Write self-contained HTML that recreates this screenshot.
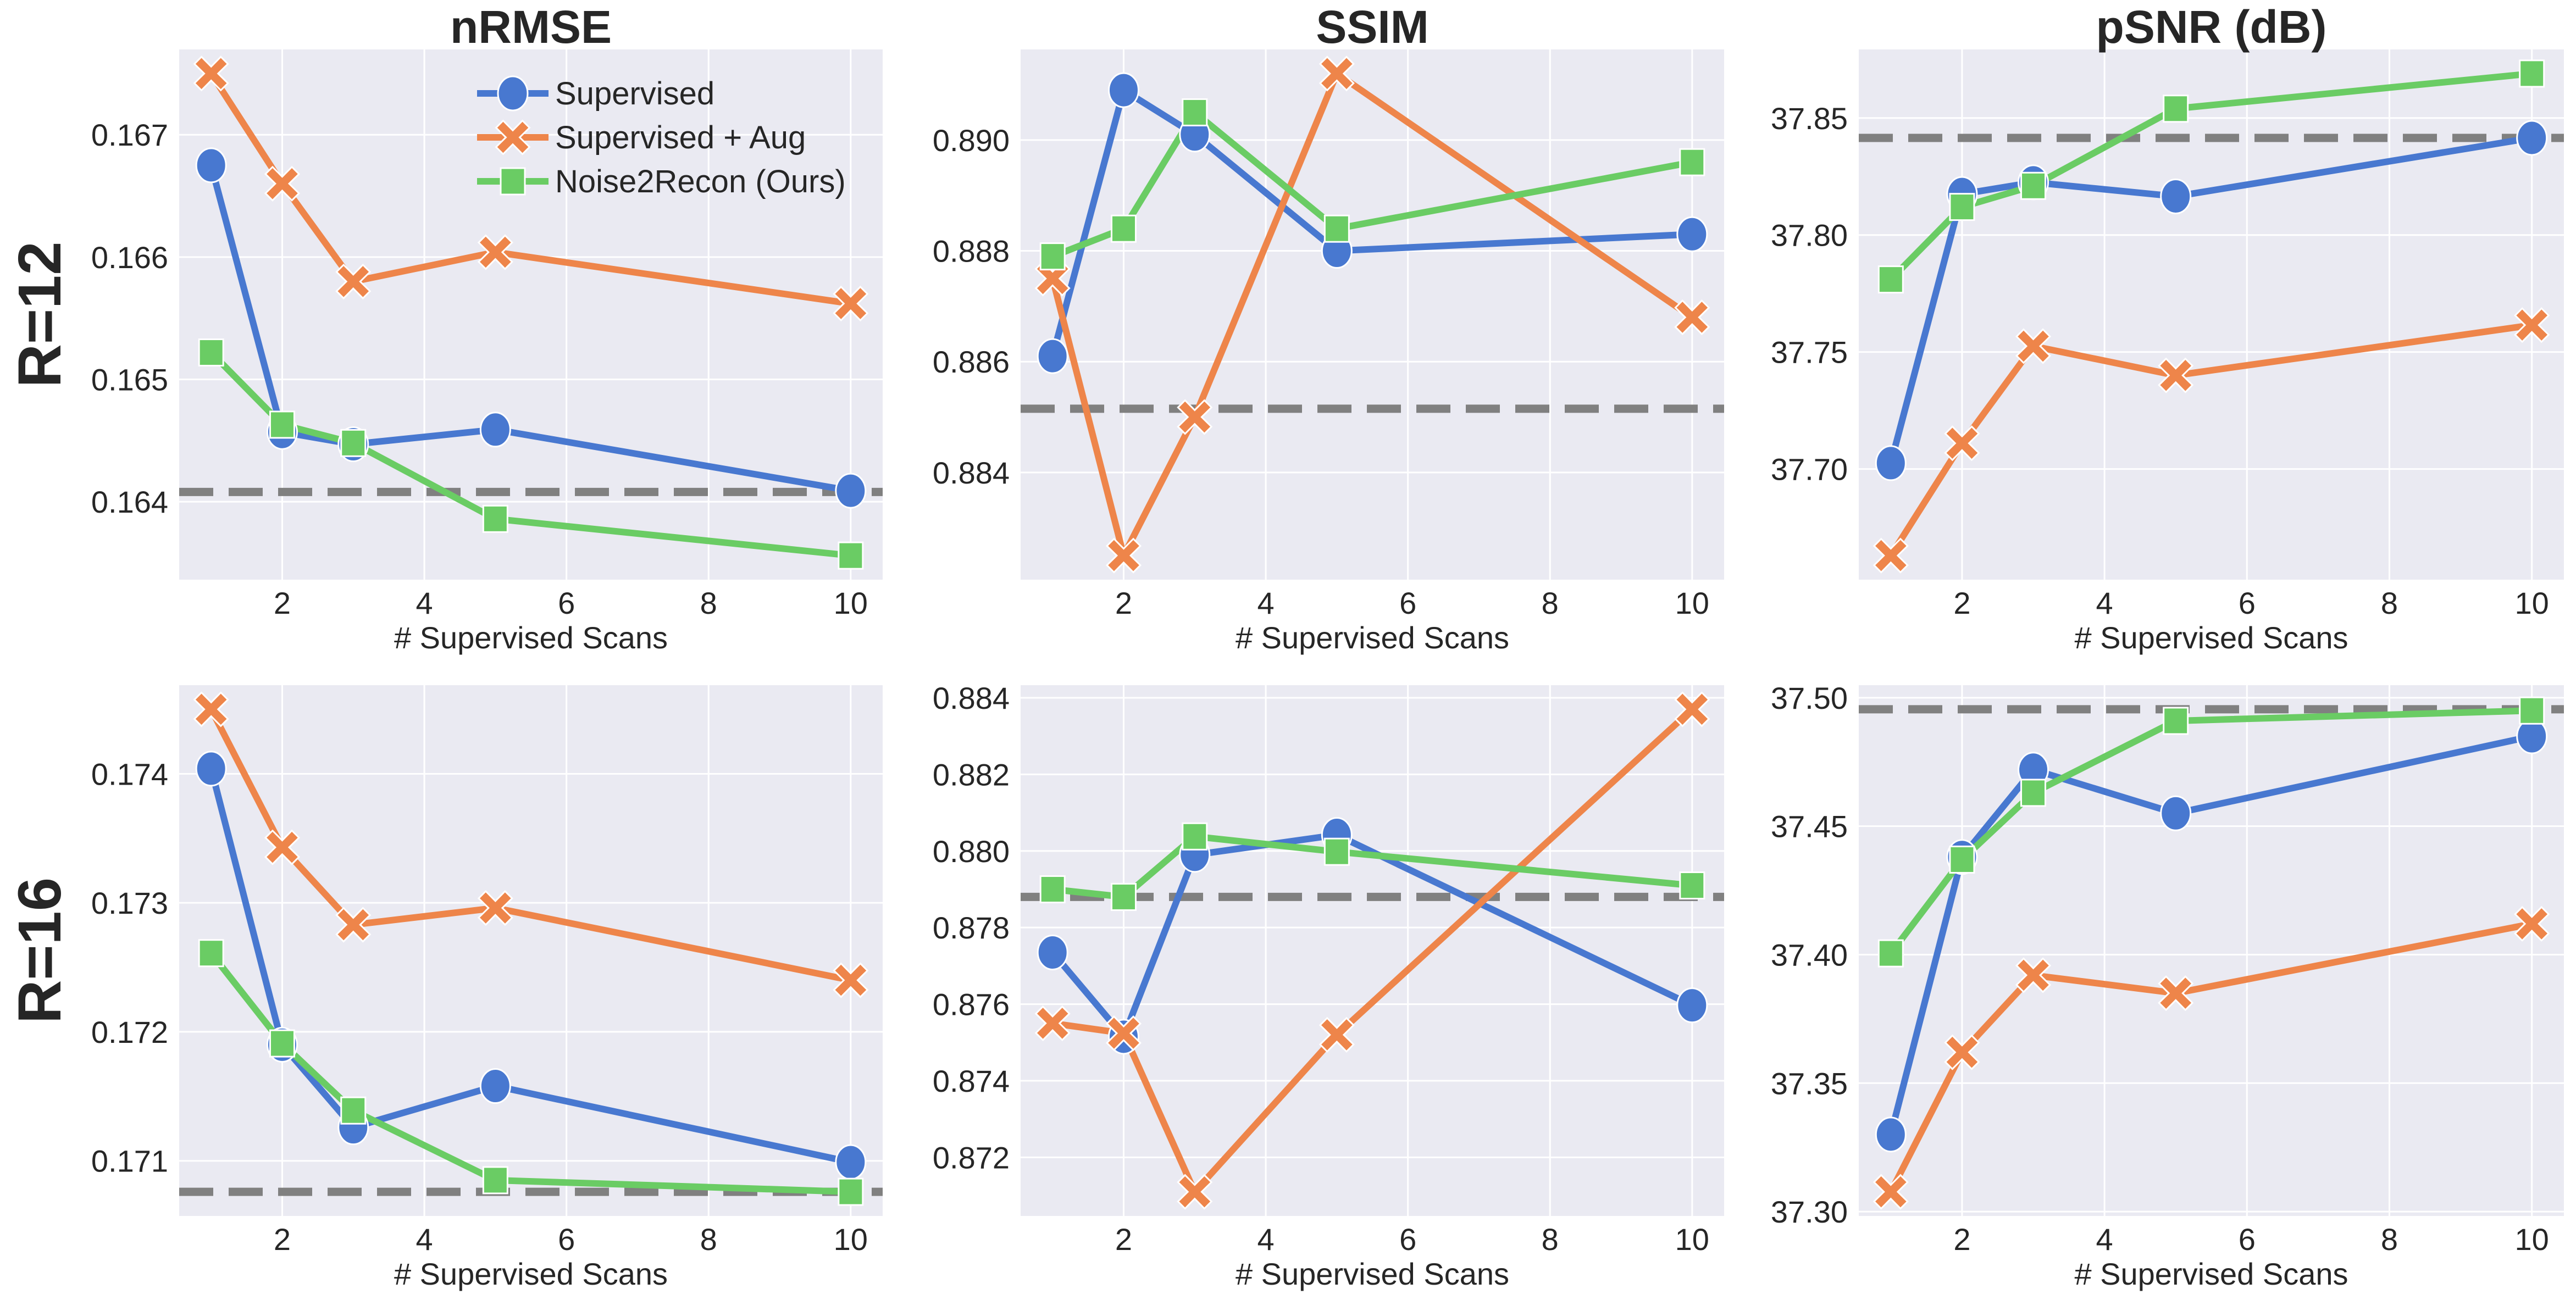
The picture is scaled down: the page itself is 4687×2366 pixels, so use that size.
<!DOCTYPE html>
<html><head><meta charset="utf-8"><style>
html,body{margin:0;padding:0;background:#fff;}
svg{display:block;font-family:"Liberation Sans",sans-serif;}
</style></head><body>
<svg id="fig" width="4687" height="2366" viewBox="0 0 4687 2366" xmlns="http://www.w3.org/2000/svg"></svg>
<script>
const xCats = [1,2,3,5,10];
const xTicks = [2,4,6,8,10];
const seriesNames = ["Supervised","Supervised + Aug","Noise2Recon (Ours)"];
// R=12
const nrmse12Sup = [0.16675,0.16457,0.16447,0.16459,0.16409];
const nrmse12Aug = [0.16750,0.16660,0.16580,0.16604,0.16562];
const nrmse12N2R = [0.16522,0.16463,0.16448,0.16386,0.16356];
const nrmse12Base = 0.16408;
const nrmse12Ticks = [0.164,0.165,0.166,0.167];
const ssim12Sup = [0.8861,0.8909,0.8901,0.8880,0.8883];
const ssim12Aug = [0.8875,0.8825,0.8850,0.8912,0.8868];
const ssim12N2R = [0.8879,0.8884,0.8905,0.8884,0.8896];
const ssim12Base = 0.88515;
const ssim12Ticks = [0.884,0.886,0.888,0.890];
const psnr12Sup = [37.7025,37.8175,37.8225,37.8165,37.8415];
const psnr12Aug = [37.663,37.711,37.7525,37.740,37.7615];
const psnr12N2R = [37.781,37.812,37.821,37.854,37.869];
const psnr12Base = 37.8415;
const psnr12Ticks = [37.70,37.75,37.80,37.85];
// R=16
const nrmse16Sup = [0.17404,0.17190,0.17126,0.17158,0.17099];
const nrmse16Aug = [0.17450,0.17343,0.17283,0.17296,0.17240];
const nrmse16N2R = [0.17261,0.17191,0.17139,0.17085,0.17076];
const nrmse16Base = 0.17076;
const nrmse16Ticks = [0.171,0.172,0.173,0.174];
const ssim16Sup = [0.87735,0.87515,0.8799,0.88042,0.87597];
const ssim16Aug = [0.8755,0.87524,0.8711,0.8752,0.8837];
const ssim16N2R = [0.8790,0.87880,0.88038,0.87998,0.8791];
const ssim16Base = 0.87880;
const ssim16Ticks = [0.872,0.874,0.876,0.878,0.880,0.882,0.884];
const psnr16Sup = [37.330,37.438,37.472,37.455,37.485];
const psnr16Aug = [37.3077,37.362,37.392,37.385,37.412];
const psnr16N2R = [37.4005,37.437,37.463,37.491,37.495];
const psnr16Base = 37.4955;
const psnr16Ticks = [37.30,37.35,37.40,37.45,37.50];

const NS="http://www.w3.org/2000/svg";
const svg=document.getElementById('fig');
const colors=["#4878D0","#EE854A","#6ACC64"];
function mk(tag,attrs,parent){const e=document.createElementNS(NS,tag);for(const k in attrs)e.setAttribute(k,attrs[k]);(parent||svg).appendChild(e);return e;}

const colX=[[326,1606],[1857,3137],[3382,4665]];
const rowY=[[90,1055],[1247,2213]];
const panels=[
 {r:0,c:0,s:[nrmse12Sup,nrmse12Aug,nrmse12N2R],b:nrmse12Base,t:nrmse12Ticks,d:3,name:"nrmse-r12"},
 {r:0,c:1,s:[ssim12Sup,ssim12Aug,ssim12N2R],b:ssim12Base,t:ssim12Ticks,d:3,name:"ssim-r12"},
 {r:0,c:2,s:[psnr12Sup,psnr12Aug,psnr12N2R],b:psnr12Base,t:psnr12Ticks,d:2,name:"psnr-r12"},
 {r:1,c:0,s:[nrmse16Sup,nrmse16Aug,nrmse16N2R],b:nrmse16Base,t:nrmse16Ticks,d:3,name:"nrmse-r16"},
 {r:1,c:1,s:[ssim16Sup,ssim16Aug,ssim16N2R],b:ssim16Base,t:ssim16Ticks,d:3,name:"ssim-r16"},
 {r:1,c:2,s:[psnr16Sup,psnr16Aug,psnr16N2R],b:psnr16Base,t:psnr16Ticks,d:2,name:"psnr-r16"}
];

function marker(g,k,x,y){
  if(k===0){const m=mk('ellipse',{cx:x,cy:y,rx:27,ry:31,fill:colors[0],stroke:'#fff','stroke-width':3},g);
    }
  else if(k===1){const a=24,w=9;
    const p=`M${-a-w/1.4},${-a+w/1.4} L${-a+w/1.4},${-a-w/1.4} L0,${-w*1.4} L${a-w/1.4},${-a-w/1.4} L${a+w/1.4},${-a+w/1.4} L${w*1.4},0 L${a+w/1.4},${a-w/1.4} L${a-w/1.4},${a+w/1.4} L0,${w*1.4} L${-a+w/1.4},${a+w/1.4} L${-a-w/1.4},${a-w/1.4} L${-w*1.4},0 Z`;
    const m=mk('path',{d:p,transform:`translate(${x},${y})`,fill:colors[1],stroke:'#fff','stroke-width':3,'stroke-linejoin':'miter'},g);
    }
  else {const m=mk('rect',{x:x-22,y:y-24,width:44,height:48,fill:colors[2],stroke:'#fff','stroke-width':3},g);
    }
}

panels.forEach(p=>{
  const [x0,x1]=colX[p.c],[y0,y1]=rowY[p.r];
  const xmin=Math.min(...xCats),xmax=Math.max(...xCats),xp=(xmax-xmin)*0.05;
  const sx=v=>x0+(v-(xmin-xp))/((xmax+xp)-(xmin-xp))*(x1-x0);
  const all=[].concat(...p.s,[p.b]);
  const lo=Math.min(...all),hi=Math.max(...all),yp=(hi-lo)*0.05;
  const sy=v=>y1-(v-(lo-yp))/((hi+yp)-(lo-yp))*(y1-y0);
  const g=mk('g',{});
  const bg=mk('rect',{x:x0,y:y0,width:x1-x0,height:y1-y0,fill:'#EAEAF2'},g);
  
  p.t.forEach(t=>{const y=sy(t);if(y<y0||y>y1)return;
    mk('line',{x1:x0,x2:x1,y1:y,y2:y,stroke:'#fff','stroke-width':3},g);
    const tx=mk('text',{x:x0-20,y:y+20,'text-anchor':'end','font-size':56,fill:'#262626'},g);
    tx.textContent=t.toFixed(p.d);});
  xTicks.forEach(t=>{const x=sx(t);
    mk('line',{x1:x,x2:x,y1:y0,y2:y1,stroke:'#fff','stroke-width':3},g);
    const tx=mk('text',{x:x,y:y1+62,'text-anchor':'middle','font-size':56,fill:'#262626'},g);
    tx.textContent=t;});
  const xl=mk('text',{x:(x0+x1)/2,y:y1+125,'text-anchor':'middle','font-size':56,fill:'#262626'},g);
  xl.textContent='# Supervised Scans';
  const cp='cp'+p.name;const cl=mk('clipPath',{id:cp},g);mk('rect',{x:x0,y:y0,width:x1-x0,height:y1-y0},cl);
  const bl=mk('line',{x1:x0,x2:x1,y1:sy(p.b),y2:sy(p.b),stroke:'#808080','stroke-width':15,'stroke-dasharray':'62 28','clip-path':`url(#${cp})`},g);
  
  p.s.forEach((vals,k)=>{
    const pts=vals.map((v,i)=>sx(xCats[i])+','+sy(v)).join(' ');
    const ln=mk('polyline',{points:pts,fill:'none',stroke:colors[k],'stroke-width':12,'stroke-linejoin':'round','stroke-linecap':'round'},g);
    
  });
  p.s.forEach((vals,k)=>vals.forEach((v,i)=>marker(g,k,sx(xCats[i]),sy(v))));
});

const titles=["nRMSE","SSIM","pSNR (dB)"];
titles.forEach((t,c)=>{const e=mk('text',{x:(colX[c][0]+colX[c][1])/2,y:78,'text-anchor':'middle','font-size':84,'font-weight':'bold',fill:'#262626'});
  e.textContent=t;});
["R=12","R=16"].forEach((t,r)=>{const cy=(rowY[r][0]+rowY[r][1])/2;
  const e=mk('text',{x:0,y:0,transform:`translate(110,${cy}) rotate(-90)`,'text-anchor':'middle','font-size':110,'font-weight':'bold',fill:'#262626'});
  e.textContent=t;});

const lg=mk('g',{});
seriesNames.forEach((n,k)=>{const y=170+k*80;
  mk('line',{x1:868,x2:998,y1:y,y2:y,stroke:colors[k],'stroke-width':12},lg);
  marker(lg,k,933,y);
  const e=mk('text',{x:1010,y:y+20,'font-size':58,fill:'#262626'},lg);
  e.textContent=n;});
</script>
</body></html>
